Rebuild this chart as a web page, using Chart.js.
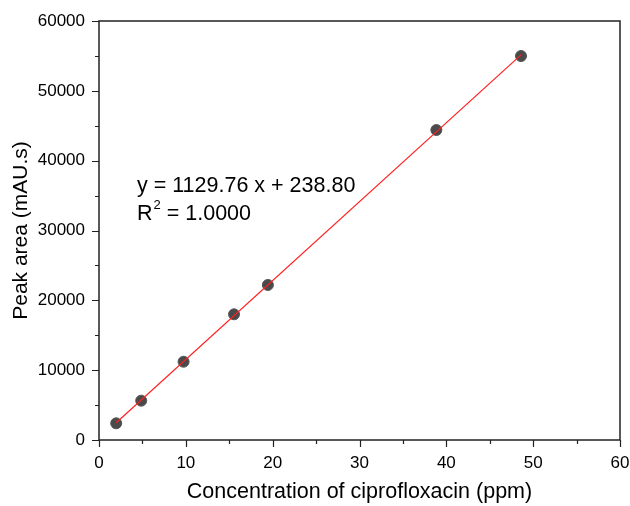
<!DOCTYPE html>
<html>
<head>
<meta charset="utf-8">
<script src="https://cdn.jsdelivr.net/npm/chart.js@4"></script>
<style>
  html, body { margin: 0; padding: 0; background: #fff; }
  #wrap { width: 630px; height: 506px; }
</style>
</head>
<body>
<div id="wrap"><canvas id="chart" width="630" height="506"></canvas></div>
<script>
// measured points (ppm vs peak area)
const concentration = [1.98, 4.86, 9.74, 15.55, 19.45, 38.85, 48.6];
const peakArea = [2390, 5630, 11210, 18000, 22200, 44390, 54990];
// fitted line end points
const fitX = [1.98, 48.6];
const fitY = [2476, 55145];
const xTicks = [0, 10, 20, 30, 40, 50, 60];
const yTicks = [0, 10000, 20000, 30000, 40000, 50000, 60000];
const equationLine = 'y = 1129.76 x + 238.80';
const r2Value = ' = 1.0000';

const FONT = 'Liberation Sans, Arial, sans-serif';
const AXIS = '#222';

// frame, outward ticks (major + minor) and the equation label
const framePlugin = {
  id: 'frame',
  afterDraw(chart) {
    const { ctx, chartArea: a, scales: { x, y } } = chart;
    ctx.save();
    ctx.strokeStyle = AXIS;
    ctx.lineWidth = 1.5;
    ctx.strokeRect(a.left, a.top, a.right - a.left, a.bottom - a.top);

    ctx.lineWidth = 1.2;
    ctx.beginPath();
    for (let v = 0; v <= 60; v += 5) {
      const px = Math.round(x.getPixelForValue(v)) + 0.5;
      const len = v % 10 === 0 ? 7 : 4;
      ctx.moveTo(px, a.bottom);
      ctx.lineTo(px, a.bottom + len);
    }
    for (let v = 0; v <= 60000; v += 5000) {
      const py = Math.round(y.getPixelForValue(v)) + 0.5;
      const len = v % 10000 === 0 ? 7 : 4;
      ctx.moveTo(a.left, py);
      ctx.lineTo(a.left - len, py);
    }
    ctx.stroke();

    ctx.fillStyle = '#000';
    ctx.font = '21.5px ' + FONT;
    ctx.textBaseline = 'alphabetic';
    ctx.textAlign = 'left';
    const tx = a.left + 38;
    ctx.fillText(equationLine, tx, 192);
    ctx.fillText('R', tx, 220);
    const rw = ctx.measureText('R').width;
    ctx.font = '13px ' + FONT;
    ctx.fillText('2', tx + rw + 1, 209);
    const sw = ctx.measureText('2').width;
    ctx.font = '21.5px ' + FONT;
    ctx.fillText(r2Value, tx + rw + sw + 1, 220);
    ctx.restore();
  }
};

new Chart(document.getElementById('chart'), {
  type: 'scatter',
  data: {
    datasets: [
      {
        label: 'fit',
        data: fitX.map((v, i) => ({ x: v, y: fitY[i] })),
        showLine: true,
        borderColor: '#ff2020',
        borderWidth: 1.2,
        pointRadius: 0,
        fill: false
      },
      {
        label: 'data',
        data: concentration.map((v, i) => ({ x: v, y: peakArea[i] })),
        pointRadius: 5.5,
        pointBackgroundColor: '#4a4a4a',
        pointBorderColor: '#555',
        pointBorderWidth: 1
      }
    ]
  },
  options: {
    responsive: false,
    animation: false,
    layout: { padding: { top: 21, right: 10, left: 0, bottom: 0 } },
    plugins: { legend: { display: false }, tooltip: { enabled: false } },
    scales: {
      x: {
        type: 'linear',
        min: 0, max: 60,
        afterBuildTicks: s => { s.ticks = xTicks.map(v => ({ value: v })); },
        afterFit: s => { s.height = 66; s.paddingLeft = 0; s.paddingRight = 0; },
        grid: { display: false, drawTicks: false },
        border: { display: false },
        ticks: { color: '#000', padding: 13, font: { size: 17, family: FONT }, maxRotation: 0 },
        title: {
          display: true, text: 'Concentration of ciprofloxacin (ppm)', color: '#000',
          font: { size: 21.5, family: FONT }, padding: { top: 0, bottom: 1 }
        }
      },
      y: {
        type: 'linear',
        min: 0, max: 60000,
        afterBuildTicks: s => { s.ticks = yTicks.map(v => ({ value: v })); },
        afterFit: s => { s.width = 99; s.paddingTop = 0; s.paddingBottom = 0; },
        grid: { display: false, drawTicks: false },
        border: { display: false },
        ticks: { color: '#000', padding: 14, font: { size: 17, family: FONT }, callback: v => String(v) },
        title: {
          display: true, text: 'Peak area (mAU.s)', color: '#000',
          font: { size: 21, family: FONT }, padding: { top: 9, bottom: 0 }
        }
      }
    }
  },
  plugins: [framePlugin]
});
</script>
</body>
</html>
